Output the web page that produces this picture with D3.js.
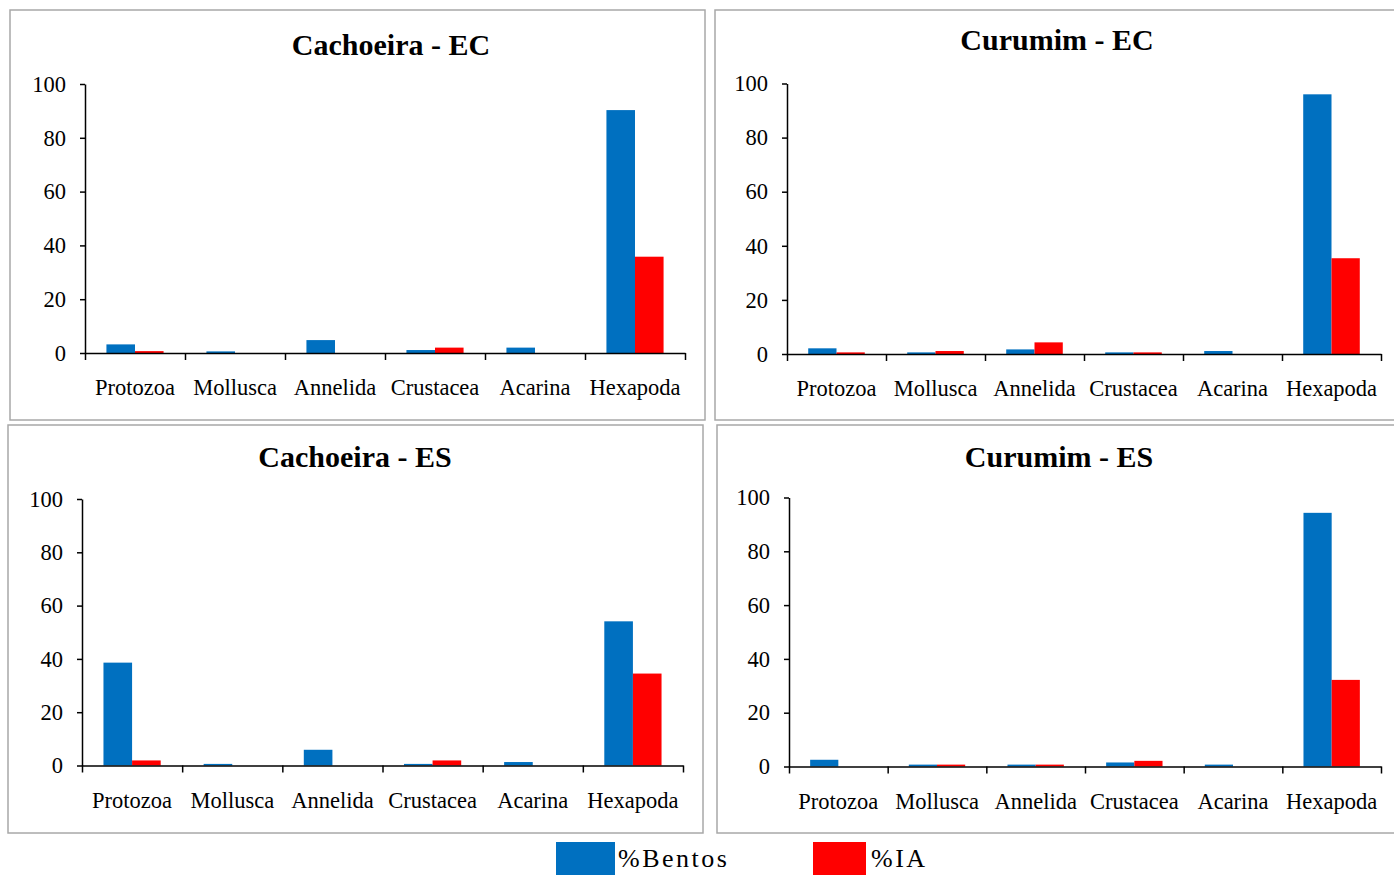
<!DOCTYPE html>
<html>
<head>
<meta charset="utf-8">
<script src="https://cdn.jsdelivr.net/npm/d3@7"></script>
<style>
  body { margin: 0; background: #fff; overflow: hidden; }
  svg { display: block; font-family: "Liberation Serif", "Times New Roman", serif; }
  .tick text { fill: #000; }
</style>
</head>
<body>
<div id="viz"></div>
<script>
// Datos
const categories = ['Protozoa', 'Mollusca', 'Annelida', 'Crustacea', 'Acarina', 'Hexapoda'];
const seriesNames = ['%Bentos', '%IA'];
const panelTitles = ['Cachoeira - EC', 'Curumim - EC', 'Cachoeira - ES', 'Curumim - ES'];
const yTicks = [0, 20, 40, 60, 80, 100];

const bentosCachoeiraEC = [3.2, 0.6, 4.8, 1.1, 2.0, 90.3];
const iaCachoeiraEC     = [0.7, 0, 0, 2.0, 0, 35.8];
const bentosCurumimEC   = [2.1, 0.6, 1.7, 0.6, 1.1, 96.0];
const iaCurumimEC       = [0.6, 1.1, 4.3, 0.6, 0, 35.4];
const bentosCachoeiraES = [38.6, 0.6, 5.9, 0.6, 1.3, 54.1];
const iaCachoeiraES     = [1.9, 0, 0, 1.9, 0, 34.5];
const bentosCurumimES   = [2.5, 0.7, 0.7, 1.5, 0.7, 94.3];
const iaCurumimES       = [0, 0.7, 0.7, 2.1, 0, 32.2];

const panelSeries = [
  [bentosCachoeiraEC, iaCachoeiraEC],
  [bentosCurumimEC, iaCurumimEC],
  [bentosCachoeiraES, iaCachoeiraES],
  [bentosCurumimES, iaCurumimES]
];

//Colores
const COLOR_BLUE = '#0070C0', COLOR_RED = '#FF0000', COLOR_BORDER = '#a8a8a8';
const SERIF = '"Liberation Serif", "Times New Roman", serif';

// Posiciones de cada panel
const layout = [
  {box: [10, 10, 695, 410], x0: 85, x1: 685, y0: 353, y100: 84, tx: 391, ty: 55},
  {box: [715, 10, 690, 410], x0: 787, x1: 1381, y0: 354, y100: 83.5, tx: 1057, ty: 50},
  {box: [8, 425, 695, 408], x0: 82, x1: 683, y0: 765.5, y100: 499, tx: 355, ty: 467},
  {box: [717, 425, 690, 408], x0: 789, x1: 1381, y0: 766.5, y100: 497.5, tx: 1059, ty: 467}
];

let svg = d3.select('#viz').append('svg')
  .attr('width', 1394)
  .attr('height', 875);

let color = d3.scaleOrdinal().domain(seriesNames).range([COLOR_BLUE, COLOR_RED]);

layout.forEach(function(L, i) {
  let g = svg.append('g');

  g.append('rect')
    .attr('x', L.box[0]).attr('y', L.box[1])
    .attr('width', L.box[2]).attr('height', L.box[3])
    .attr('fill', '#fff')
    .attr('stroke', COLOR_BORDER)
    .attr('stroke-width', 1.5);

  g.append('text')
    .attr('x', L.tx).attr('y', L.ty)
    .attr('text-anchor', 'middle')
    .style('font-size', '30px')
    .style('font-weight', 700)
    .text(panelTitles[i]);

  let x = d3.scaleBand().domain(categories).range([L.x0, L.x1]).padding(0);
  let gap = x.bandwidth() * 0.75 / 3.5;
  let xSub = d3.scaleBand().domain(seriesNames).range([gap, x.bandwidth() - gap]).padding(0);
  let y = d3.scaleLinear().domain([0, 100]).range([L.y0, L.y100]);

  let rows = categories.map(function(c, k) {
    return {cat: c, vals: seriesNames.map(function(s, j) { return {key: s, value: panelSeries[i][j][k]}; })};
  });

  g.append('g')
    .selectAll('g')
    .data(rows)
    .enter()
    .append('g')
    .attr('transform', function(d) { return 'translate(' + x(d.cat) + ',0)'; })
    .selectAll('rect')
    .data(function(d) { return d.vals; })
    .enter()
    .append('rect')
    .attr('fill', function(d) { return color(d.key); })
    .attr('x', function(d) { return xSub(d.key); })
    .attr('width', xSub.bandwidth())
    .attr('y', function(d) { return y(d.value); })
    .attr('height', function(d) { return y(0) - y(d.value); });

  // Eje Y
  let yAx = g.append('g')
    .attr('transform', 'translate(' + L.x0 + ',0)')
    .call(d3.axisLeft(y).tickValues(yTicks).tickSize(5).tickPadding(14).tickSizeOuter(0))
    .attr('font-family', SERIF)
    .attr('font-size', 22.5);
  yAx.selectAll('line, path').attr('stroke', '#000').attr('stroke-width', 1.5);

  // Eje X: marcas en los límites de categoría
  let bound = d3.scaleLinear().domain([0, categories.length]).range([L.x0, L.x1]);
  let xAx = g.append('g')
    .attr('transform', 'translate(0,' + L.y0 + ')')
    .call(d3.axisBottom(bound).tickValues(d3.range(categories.length + 1)).tickSize(7).tickSizeOuter(0).tickFormat(''));
  xAx.selectAll('line, path').attr('stroke', '#000').attr('stroke-width', 1.5);

  g.append('g')
    .selectAll('text')
    .data(categories)
    .enter()
    .append('text')
    .attr('x', function(d) { return x(d) + x.bandwidth() / 2; })
    .attr('y', L.y0 + 42)
    .attr('text-anchor', 'middle')
    .style('font-size', '22.5px')
    .text(function(d) { return d; });
});

// Leyenda
let legend = [
  {name: seriesNames[0], bx: 556, bw: 59, tx: 618},
  {name: seriesNames[1], bx: 813, bw: 53, tx: 871}
];
let lg = svg.append('g');
lg.selectAll('rect')
  .data(legend)
  .enter()
  .append('rect')
  .attr('x', function(d) { return d.bx; })
  .attr('y', 842)
  .attr('width', function(d) { return d.bw; })
  .attr('height', 40)
  .attr('fill', function(d) { return color(d.name); });
lg.selectAll('text')
  .data(legend)
  .enter()
  .append('text')
  .attr('x', function(d) { return d.tx; })
  .attr('y', 867)
  .style('font-size', '26px')
  .style('letter-spacing', '2.5px')
  .text(function(d) { return d.name; });
</script>
</body>
</html>
